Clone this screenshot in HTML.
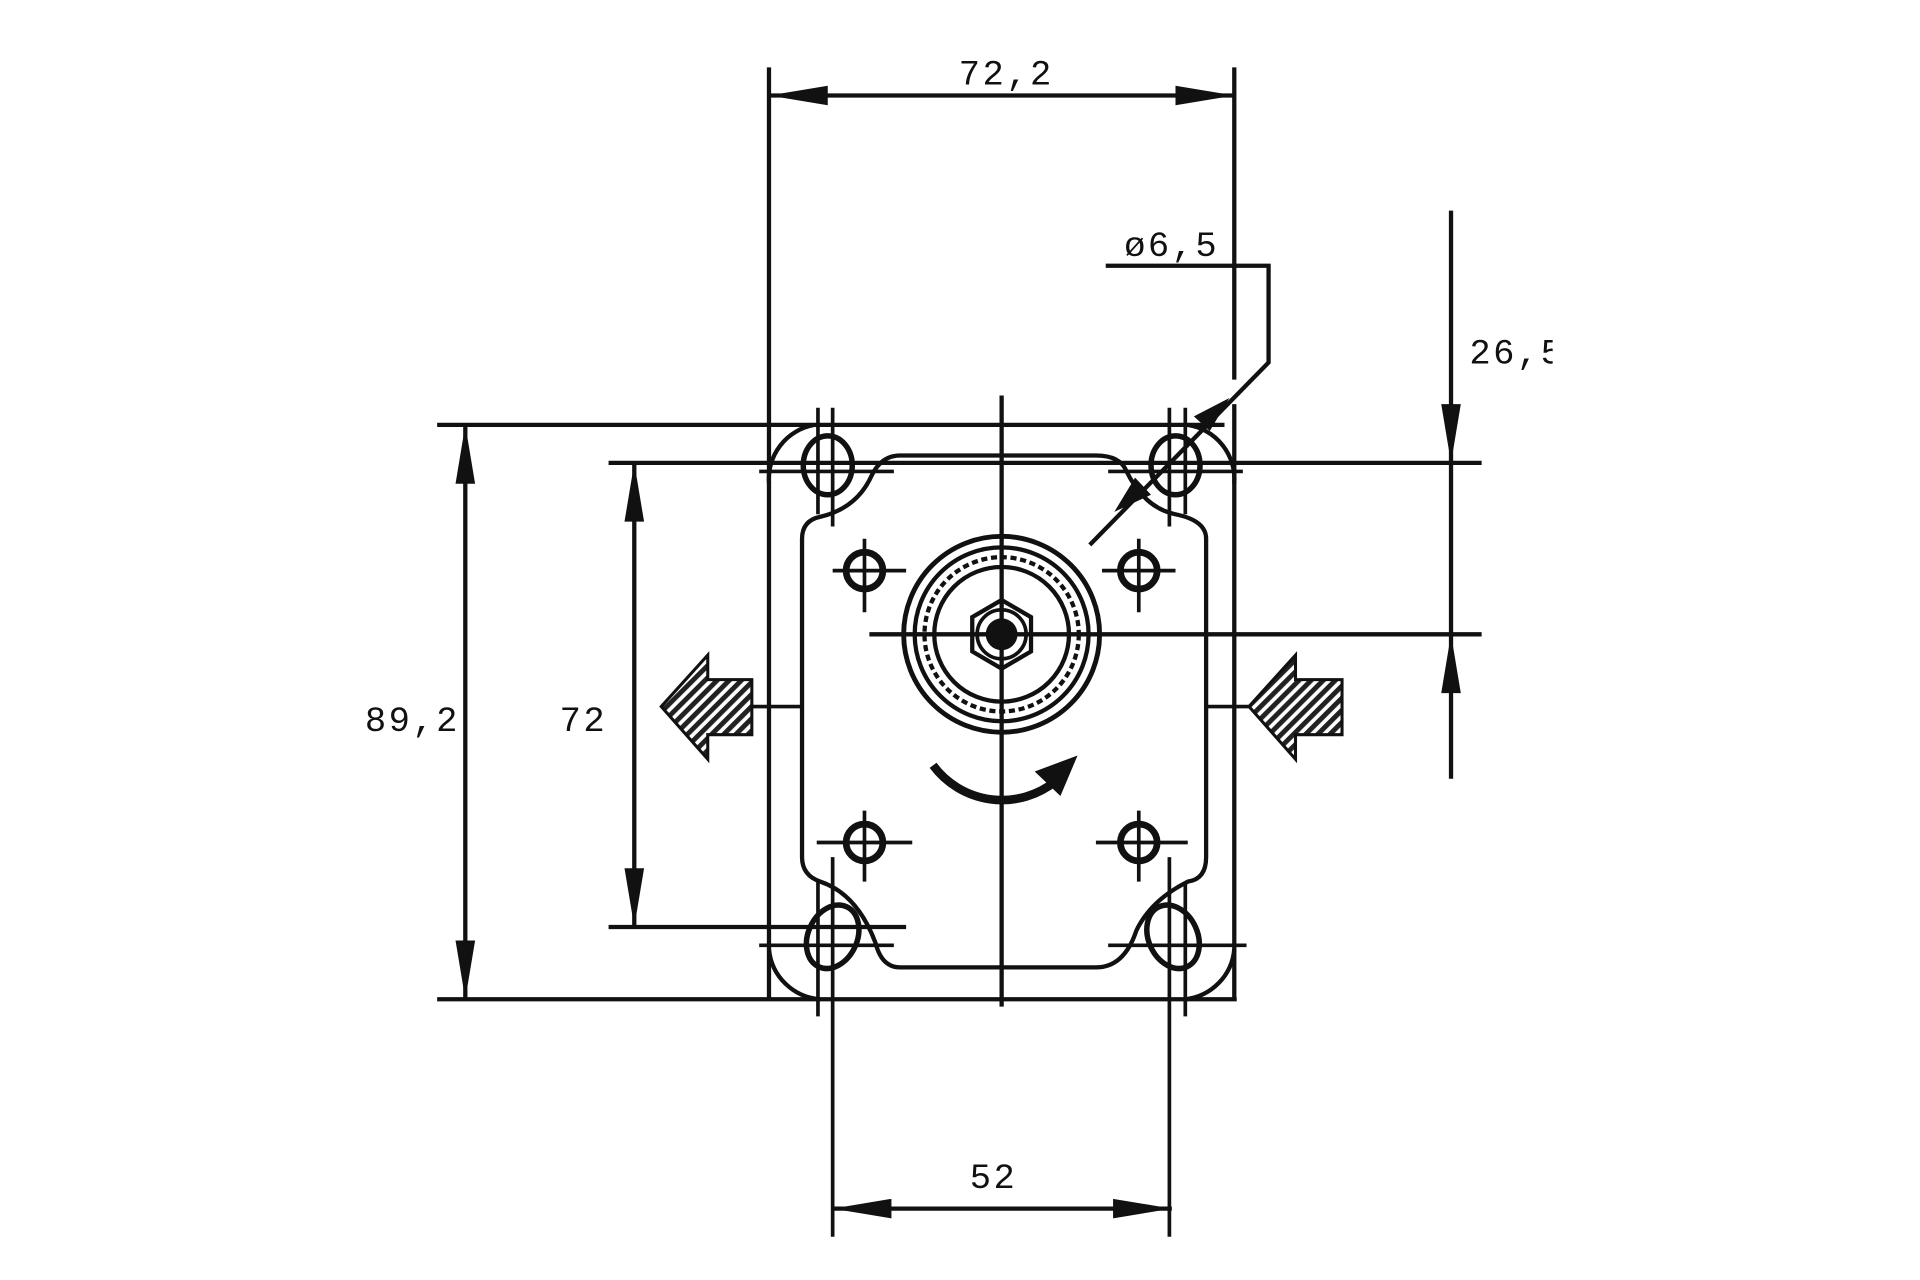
<!DOCTYPE html>
<html><head><meta charset="utf-8"><style>html,body{margin:0;padding:0;background:#fff;overflow:hidden}svg{display:block}text{font-family:"Liberation Mono",monospace;font-size:29px;fill:#111;letter-spacing:2px}</style></head>
<body>
<svg width="1920" height="1280" viewBox="0 0 1568 1045.3" preserveAspectRatio="none" xmlns="http://www.w3.org/2000/svg">
<defs>
<pattern id="h" width="7" height="7" patternUnits="userSpaceOnUse" patternTransform="rotate(45)"><rect width="7" height="7" fill="#fff"/><rect width="4" height="7" fill="#222"/></pattern>
</defs>
<g stroke="#111" stroke-width="3.5" fill="none">
<line x1="628" y1="55" x2="628" y2="816"/>
<line x1="1008" y1="55" x2="1008" y2="310"/>
<line x1="1008" y1="330" x2="1008" y2="816"/>
<line x1="628" y1="78" x2="1008" y2="78"/>
<line x1="357" y1="347" x2="1000" y2="347"/>
<line x1="497" y1="378" x2="1210" y2="378"/>
<line x1="710" y1="518" x2="1210" y2="518"/>
<line x1="497" y1="757" x2="740" y2="757"/>
<line x1="357" y1="816" x2="1010" y2="816"/>
<line x1="818" y1="323" x2="818" y2="822"/>
<path d="M628 395 A45 45 0 0 1 665 347"/>
<path d="M970 347 A45 45 0 0 1 1008 395"/>
<path d="M628 775 A45 45 0 0 0 670 816"/>
<path d="M968 816 A45 45 0 0 0 1008 775"/>
<path d="M735 372 L895 372 Q915 372 920 385 Q935 415 960 420 Q985 425 985 440 L985 700 Q985 718 970 720 Q940 735 928 760 Q918 790 895 790 L735 790 Q720 790 715 770 Q700 730 670 720 Q655 715 655 700 L655 440 Q655 425 670 422 Q700 415 712 388 Q720 372 735 372 Z"/>
<g stroke-width="3">
<line x1="620" y1="385" x2="730" y2="385"/><line x1="905" y1="385" x2="1015" y2="385"/>
<line x1="620" y1="772" x2="730" y2="772"/><line x1="905" y1="772" x2="1018" y2="772"/>
<line x1="668" y1="333" x2="668" y2="420"/><line x1="680" y1="333" x2="680" y2="430"/>
<line x1="955" y1="333" x2="955" y2="430"/><line x1="968" y1="333" x2="968" y2="420"/>
<line x1="668" y1="720" x2="668" y2="830"/><line x1="680" y1="700" x2="680" y2="1010"/>
<line x1="955" y1="700" x2="955" y2="1010"/><line x1="968" y1="720" x2="968" y2="830"/>
<line x1="680" y1="466" x2="740" y2="466"/><line x1="706" y1="440" x2="706" y2="500"/>
<line x1="900" y1="466" x2="960" y2="466"/><line x1="930" y1="440" x2="930" y2="500"/>
<line x1="667" y1="688" x2="745" y2="688"/><line x1="706" y1="662" x2="706" y2="720"/>
<line x1="895" y1="688" x2="970" y2="688"/><line x1="930" y1="662" x2="930" y2="720"/>
<line x1="985" y1="577" x2="1020" y2="577"/><line x1="614" y1="577" x2="655" y2="577"/>
</g>
<ellipse cx="676" cy="380" rx="20" ry="24" stroke-width="4.5"/>
<ellipse cx="960" cy="380" rx="20" ry="24" stroke-width="4.5"/>
<ellipse cx="680" cy="765" rx="20" ry="27" transform="rotate(25 680 765)" stroke-width="4.5"/>
<ellipse cx="958" cy="765" rx="20" ry="27" transform="rotate(-25 958 765)" stroke-width="4.5"/>
<circle cx="706" cy="466" r="15" stroke-width="5.5"/>
<circle cx="930" cy="466" r="15" stroke-width="5.5"/>
<circle cx="706" cy="688" r="15" stroke-width="5.5"/>
<circle cx="930" cy="688" r="15" stroke-width="5.5"/>
<circle cx="818" cy="518" r="80" stroke-width="4"/>
<circle cx="818" cy="518" r="71" stroke-width="3.5"/>
<circle cx="818" cy="518" r="63" stroke-width="3.5" stroke-dasharray="5 3"/>
<circle cx="818" cy="518" r="55" stroke-width="3.5"/>
<polygon points="818,490 842,504 842,532 818,546 794,532 794,504" stroke-width="3.5"/>
<circle cx="818" cy="518" r="20" stroke-width="3"/>
<line x1="380" y1="347" x2="380" y2="816"/>
<line x1="518" y1="378" x2="518" y2="757"/>
<line x1="680" y1="987" x2="957" y2="987"/>
<line x1="1185" y1="172" x2="1185" y2="636"/>
<polyline points="903,217 1036,217 1036,296 890,445"/>
<path d="M762 625 A70 70 0 0 0 862 638" stroke-width="7"/>
</g>
<circle cx="818" cy="518" r="13" fill="#111"/>
<g fill="#111">
<polygon points="628,78 676,70 676,86"/><polygon points="1008,78 960,70 960,86"/>
<polygon points="380,347 372,395 388,395"/><polygon points="380,816 372,768 388,768"/>
<polygon points="518,378 510,426 526,426"/><polygon points="518,757 510,709 526,709"/>
<polygon points="680,987 728,979 728,995"/><polygon points="957,987 909,979 909,995"/>
<polygon points="1185,378 1177,330 1193,330"/><polygon points="1185,518 1177,566 1193,566"/>
<polygon points="1004,325 975,340 988,352"/><polygon points="910,418 940,404 927,390"/>
<polygon points="880,617 845,630 866,650"/>
</g>
<polygon points="540,577 578,535 578,555 614,555 614,600 578,600 578,620" fill="url(#h)" stroke="#111" stroke-width="2.5"/>
<polygon points="1020,577 1058,535 1058,555 1096,555 1096,600 1058,600 1058,620" fill="url(#h)" stroke="#111" stroke-width="2.5"/>
<text x="783" y="69">72,2</text>
<text x="918" y="209">ø6,5</text>
<text x="1200" y="297">26,5</text>
<text x="298" y="597">89,2</text>
<text x="457" y="597">72</text>
<text x="792" y="970">52</text>
<rect x="1268" y="260" width="40" height="50" fill="#fff"/>
</svg>
</body></html>
